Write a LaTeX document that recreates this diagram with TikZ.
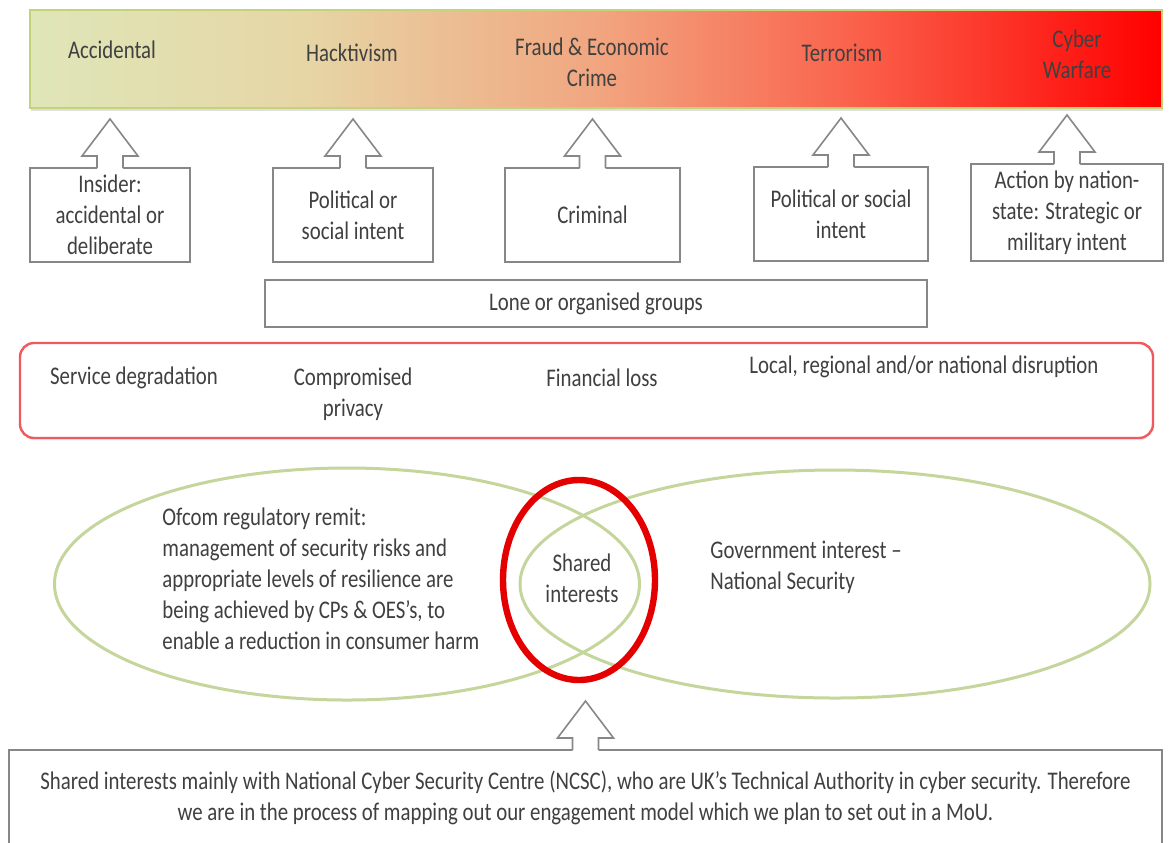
\documentclass[tikz,border=0pt]{standalone}
\usepackage{fontspec}
\setmainfont{Carlito}[FakeStretch=0.82]
\usetikzlibrary{calc, shapes.geometric, shadows}

\definecolor{txtgray}{RGB}{64,64,64}
\definecolor{boxgray}{RGB}{135,135,135}
\definecolor{olivegreen}{RGB}{196,214,155}
\definecolor{barline}{RGB}{196,210,120}
\definecolor{impactred}{RGB}{238,90,95}
\definecolor{ringred}{RGB}{228,0,0}
\definecolor{shA}{RGB}{223,230,184}
\definecolor{shB}{RGB}{230,214,166}
\definecolor{shC}{RGB}{241,166,128}
\definecolor{shD}{RGB}{250,100,78}
\definecolor{shE}{RGB}{255,0,0}
\pgfdeclarehorizontalshading{threatscale}{100bp}{color(0bp)=(shA); color(25bp)=(shA); color(37bp)=(shB); color(50bp)=(shC); color(61bp)=(shD); color(75bp)=(shE); color(100bp)=(shE)}

\tikzstyle{spectrumbar} = [rectangle, minimum width=566pt, minimum height=49pt, shade, shading=threatscale, draw=barline, line width=1pt, drop shadow={opacity=0.25, shadow xshift=0.5pt, shadow yshift=-1.5pt}]
\tikzstyle{plaintext} = [text=txtgray, align=center, inner sep=1pt]
\tikzstyle{actor} = [rectangle, draw=boxgray, line width=0.8pt, fill=white, text=txtgray, align=center, inner sep=1pt, outer sep=0pt, minimum height=47pt, drop shadow={opacity=0.2, shadow xshift=0.6pt, shadow yshift=-0.6pt}]
\tikzstyle{impactbox} = [rectangle, rounded corners=7pt, draw=impactred, fill=white, line width=1.2pt, minimum width=566.5pt, minimum height=47.5pt, drop shadow={opacity=0.15, shadow xshift=0.5pt, shadow yshift=-1pt}]
\tikzstyle{remit} = [ellipse, draw=olivegreen, line width=1.5pt]
\tikzstyle{calloutarrow} = [draw=boxgray, line width=0.8pt]

% block arrow standing on top of a box
\newcommand{\blockup}[1]{%
  \fill[white] ($(#1.north)+(-13,2)$) -- ++(0,-14) -- ++(-15,0) -- ($(#1.north)+(0,-49)$) -- ($(#1.north)+(28,-12)$) -- ++(-15,0) -- ($(#1.north)+(13,2)$) -- cycle;
  \draw[calloutarrow] ($(#1.north)+(-13,0)$) -- ++(0,-12) -- ++(-15,0) -- ($(#1.north)+(0,-49)$) -- ($(#1.north)+(28,-12)$) -- ++(-15,0) -- ($(#1.north)+(13,0)$);
}

\begin{document}
\begin{tikzpicture}[x=0.5pt, y=-0.5pt, font=\fontsize{12.7pt}{15.5pt}\selectfont]
\clip (0,0) rectangle (1170,842);
\fill[white] (0,0) rectangle (1170,842);

% Threat spectrum
\node (spectrum) [spectrumbar] at (596,59) {};
\node (accidental) [plaintext] at (112,50) {Accidental};
\node (hacktivism) [plaintext] at (352,53) {Hacktivism};
\node (fraud) [plaintext] at (592,62) {Fraud \& Economic\\Crime};
\node (terrorism) [plaintext] at (842,53) {Terrorism};
\node (warfare) [plaintext] at (1077,54) {Cyber\\Warfare};

% Actors
\node (insider) [actor, minimum width=80pt] at (110,215) {Insider:\\accidental or\\deliberate};
\node (political) [actor, minimum width=80pt] at (353,215) {Political or\\social intent};
\node (criminal) [actor, minimum width=87.5pt] at (592.5,215) {Criminal};
\node (terrorist) [actor, minimum width=87pt] at (841,214) {Political or social\\intent};
\node (nationstate) [actor, minimum width=96pt, minimum height=48.5pt] at (1067,212.5) {Action by nation-\\state: Strategic or\\military intent};

% Arrows
\foreach \b in {insider, political, criminal, terrorist, nationstate} {
  \blockup{\b}
}

\node (groups) [actor, minimum width=331pt, minimum height=23.5pt] at (596,303.5) {Lone or organised groups};

% Impacts
\node (impacts) [impactbox] at (586.5,390.5) {};
\node (service) [plaintext] at (134,378) {Service degradation};
\node (privacy) [plaintext] at (353,394) {Compromised\\privacy};
\node (financial) [plaintext] at (602,378) {Financial loss};
\node (disruption) [plaintext] at (924,367) {Local, regional and/or national disruption};

% Interests
\node (ofcom) [remit, minimum width=292.5pt, minimum height=116pt] at (347,584) {};
\node (government) [remit, minimum width=315pt, minimum height=114pt] at (835,584) {};
\node (shared) [ellipse, draw=ringred, line width=3.2pt, minimum width=76pt, minimum height=100pt] at (579,580) {};
\node (ofcomtext) [plaintext, align=left, anchor=west] at (160,579) {Ofcom regulatory remit:\\management of security risks and\\appropriate levels of resilience are\\being achieved by CPs \& OES’s, to\\enable a reduction in consumer harm};
\node (sharedtext) [plaintext] at (582,578) {Shared\\interests};
\node (govtext) [plaintext, align=left, anchor=west] at (708,567) {Government interest –\\National Security};

% NCSC
\node (ncsc) [actor, minimum width=576.5pt, minimum height=48pt] at (585.5,798) {Shared interests mainly with National Cyber Security Centre (NCSC), who are UK’s Technical Authority in cyber security. Therefore\\we are in the process of mapping out our engagement model which we plan to set out in a MoU.};
\blockup{ncsc}

\end{tikzpicture}
\end{document}
